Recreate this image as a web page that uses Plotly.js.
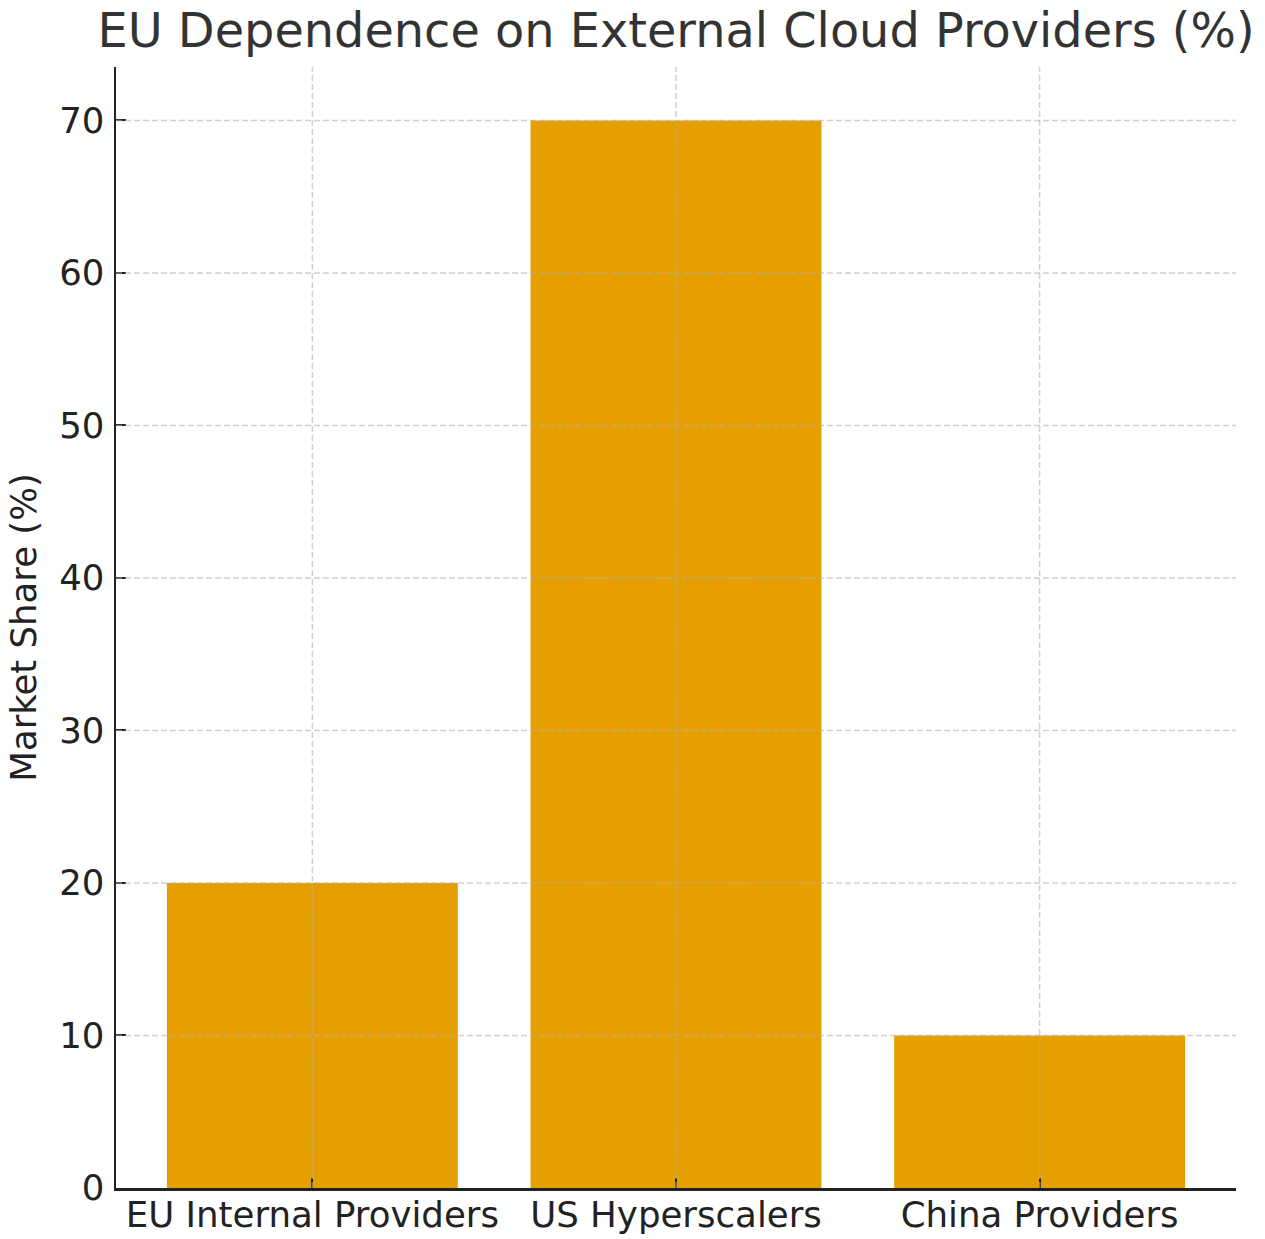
<!DOCTYPE html>
<html>
<head>
<meta charset="utf-8">
<script src="https://cdn.plot.ly/plotly-3.0.1.min.js"></script>
<style>
  html, body { margin: 0; padding: 0; background: #ffffff; }
  #chart { width: 1265px; height: 1239px; }
</style>
</head>
<body>
<div id="chart"></div>
<script>
// Cloud market share by provider origin
const categories = ["EU Internal Providers", "US Hyperscalers", "China Providers"];
const marketShare = [20, 70, 10];
const yTickValues = [0, 10, 20, 30, 40, 50, 60, 70];

const FONT = "DejaVu Sans, Liberation Sans, sans-serif";
const INK = "#222222";
const GRID = "rgba(176,176,176,0.6)";

// Dashed grid drawn over the bars, one line per tick
const gridLines = [];
yTickValues.filter(v => v > 0).forEach(v => {
  gridLines.push({
    type: "line", layer: "above", xref: "paper", yref: "y",
    x0: 0, x1: 1, y0: v, y1: v,
    line: { color: GRID, width: 1.5, dash: "6px,3px" }
  });
});
categories.forEach((c, i) => {
  gridLines.push({
    type: "line", layer: "above", xref: "x", yref: "paper",
    x0: i, x1: i, y0: 0, y1: 1,
    line: { color: GRID, width: 1.5, dash: "6px,3px" }
  });
});

const trace = {
  type: "bar",
  x: categories,
  y: marketShare,
  width: 0.8,
  marker: { color: "#E5A000", line: { width: 0 } },
  hoverinfo: "x+y"
};

const layout = {
  width: 1265,
  height: 1239,
  margin: { l: 116, r: 29, t: 67, b: 51 },
  paper_bgcolor: "#ffffff",
  plot_bgcolor: "#ffffff",
  showlegend: false,
  font: { family: FONT, color: INK, size: 35.5 },
  title: {
    text: "EU Dependence on External Cloud Providers (%)",
    font: { family: FONT, size: 47.8, color: "#333333" },
    x: 0.5, xanchor: "center",
    y: 1, yanchor: "bottom",
    xref: "paper", yref: "paper",
    pad: { b: 20 }
  },
  xaxis: {
    type: "category",
    range: [-0.54, 2.54],
    showgrid: false,
    zeroline: false,
    showline: true, linecolor: INK, linewidth: 2.5,
    ticks: "inside", ticklen: 10, tickwidth: 2, tickcolor: INK,
    tickfont: { family: FONT, size: 35.6, color: INK },
    ticklabelstandoff: -6,
    layer: "above traces"
  },
  yaxis: {
    range: [0, 73.5],
    tickvals: yTickValues,
    ticktext: yTickValues.map(String),
    showgrid: false,
    zeroline: false,
    showline: true, linecolor: INK, linewidth: 2.5,
    ticks: "inside", ticklen: 10, tickwidth: 2, tickcolor: INK,
    tickfont: { family: FONT, size: 35.5, color: INK },
    ticklabelstandoff: 2,
    title: {
      text: "Market Share (%)",
      font: { family: FONT, size: 35.5, color: INK },
      standoff: 12
    },
    layer: "above traces"
  },
  shapes: gridLines,
  bargap: 0.2
};

Plotly.newPlot("chart", [trace], layout, { displayModeBar: false, staticPlot: true });
</script>
</body>
</html>
